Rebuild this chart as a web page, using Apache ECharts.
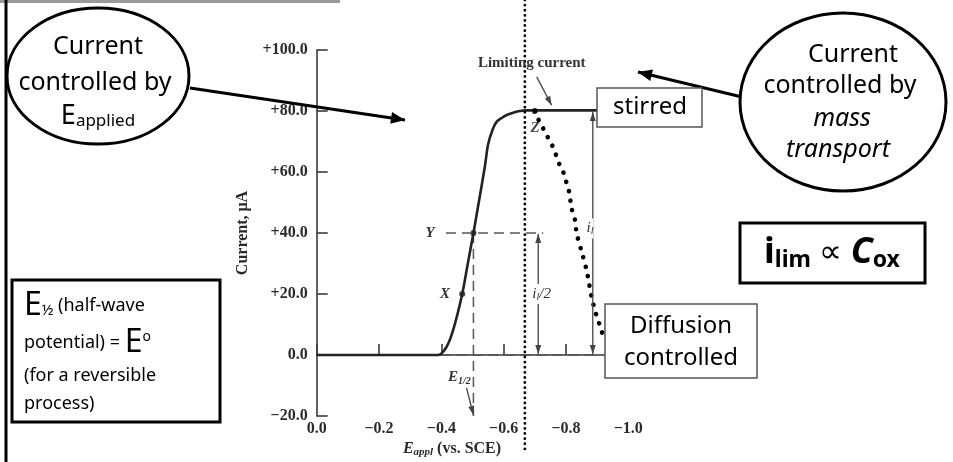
<!DOCTYPE html>
<html><head><meta charset="utf-8">
<script src="https://cdn.jsdelivr.net/npm/echarts@6/dist/echarts.min.js"></script>
<style>html,body{margin:0;padding:0;background:#fff}#c{width:953px;height:462px}</style>
</head><body><div id="c"></div>
<script>
// ---- data (E in V vs SCE, current in µA) ----
const xTickLabels = ['0.0', '−0.2', '−0.4', '−0.6', '−0.8', '−1.0'];
const yTickLabels = ['−20.0', '0.0', '+20.0', '+40.0', '+60.0', '+80.0', '+100.0'];
const eStirred = [0, -0.39, -0.417, -0.438, -0.467, -0.485, -0.503, -0.52, -0.54, -0.55, -0.565, -0.578, -0.595, -0.61, -0.635, -0.652, -0.67, -0.9];
const iStirred = [0, 0, 2.7, 8.2, 20, 30, 40, 50, 62, 69, 74, 76.5, 77.8, 78.7, 79.6, 80, 80.2, 80.2];
const eDiffusion = [-0.70, -0.717, -0.733, -0.746, -0.76, -0.77, -0.781, -0.794, -0.802, -0.81, -0.818, -0.829, -0.834, -0.85, -0.866, -0.874, -0.882, -0.89, -0.899, -0.91, -0.92];
const iDiffusion = [80, 76, 73.2, 70.5, 67.8, 65, 62, 59.3, 56.3, 53.5, 48.2, 44.3, 40, 34, 27.9, 23.5, 19.1, 15.8, 12.6, 9.3, 6];
const eHalf = -0.503, iHalf = 40;          // point Y (E1/2)
const eX = -0.467, iX = 20;                // point X
const eZ = -0.70, iZ = 80;                 // point Z
const iLim = 80;
const eDivider = -0.668;                   // vertical dotted divider
const dashHalf = [[-0.415, 40], [-0.727, 40]];
const dashE12 = [[-0.503, 40], [-0.503, -20]];
const dashZero = [[-0.396, 0], [-0.893, 0]];
const eArrowHalf = -0.711, eArrowLim = -0.886;

const chart = echarts.init(document.getElementById('c'));
const serif = 'Liberation Serif, Times New Roman, serif';
const comic = '"Comic Sans MS", "Noto Sans", sans-serif';
const axisCol = '#3a3a3a';

const pair = (xs, ys) => xs.map((x, i) => [x, ys[i]]);

chart.setOption({
  animation: false,
  grid: { left: 316.7, right: 324.7, top: 50, bottom: 46 },
  xAxis: {
    type: 'value', min: -1, max: 0, interval: 0.2, inverse: true,
    splitLine: { show: false },
    axisLine: { lineStyle: { color: axisCol, width: 1.6 } },
    axisTick: { inside: true, length: 11, lineStyle: { color: axisCol, width: 1.6 } },
    axisLabel: { margin: 5, color: '#2a2a2a', fontFamily: serif, fontWeight: 'bold', fontSize: 16,
      formatter: v => xTickLabels[Math.round(-v / 0.2)] }
  },
  yAxis: {
    type: 'value', min: -20, max: 100, interval: 20,
    name: 'Current, μA', nameLocation: 'middle', nameGap: 66, nameRotate: 90,
    nameTextStyle: { color: '#2a2a2a', fontFamily: serif, fontWeight: 'bold', fontSize: 16 },
    splitLine: { show: false },
    axisLine: { onZero: false, lineStyle: { color: axisCol, width: 1.6 } },
    axisTick: { inside: true, length: 11, lineStyle: { color: axisCol, width: 1.6 } },
    axisLabel: { margin: 9, color: '#2a2a2a', fontFamily: serif, fontWeight: 'bold', fontSize: 16,
      formatter: v => yTickLabels[Math.round((v + 20) / 20)] }
  },
  series: [
    { type: 'line', data: dashHalf, symbol: 'none', lineStyle: { color: '#555', width: 1.5, type: [10, 6] } },
    { type: 'line', data: dashE12, symbol: 'none', lineStyle: { color: '#555', width: 1.5, type: [10, 6] } },
    { type: 'line', data: dashZero, symbol: 'none', lineStyle: { color: '#555', width: 1.5, type: [10, 6] } },
    { type: 'line', data: pair(eStirred, iStirred), symbol: 'none', smooth: 0.3,
      lineStyle: { color: '#222', width: 2.6 } },
    { type: 'line', data: pair(eDiffusion, iDiffusion), symbol: 'none', smooth: 0.3,
      lineStyle: { color: '#000', width: 4.6, type: [0.1, 9.6], cap: 'round' } },
    { type: 'scatter', data: [[eX, iX], [eHalf, iHalf], [eZ, iZ]], symbolSize: 6,
      itemStyle: { color: '#111' } }
  ]
});

const P = (e, i) => chart.convertToPixel({ gridIndex: 0 }, [e, i]);

function arrow(p1, p2, o) {
  o = Object.assign({ color: '#000', width: 2, L: 12, W: 5, both: false }, o || {});
  const els = [{ type: 'line', shape: { x1: p1[0], y1: p1[1], x2: p2[0], y2: p2[1] },
    style: { stroke: o.color, lineWidth: o.width }, z: 50 }];
  const head = (a, b) => {
    const dx = b[0] - a[0], dy = b[1] - a[1], d = Math.hypot(dx, dy);
    const ux = dx / d, uy = dy / d, bx = b[0] - ux * o.L, by = b[1] - uy * o.L;
    return { type: 'polygon', shape: { points: [[b[0], b[1]], [bx - uy * o.W, by + ux * o.W], [bx + uy * o.W, by - ux * o.W]] },
      style: { fill: o.color }, z: 51 };
  };
  els.push(head(p1, p2));
  if (o.both) els.push(head(p2, p1));
  return els;
}
function txt(x, y, text, font, extra) {
  return { type: 'text', x: x, y: y, z: 60,
    style: Object.assign({ text: text, font: font, fill: '#000', align: 'center', verticalAlign: 'middle' }, extra || {}) };
}

const g = [];
// page decoration
g.push({ type: 'rect', shape: { x: 0, y: 0, width: 340, height: 3 }, style: { fill: '#9a9a9a' }, z: 1 });
g.push({ type: 'line', shape: { x1: 6, y1: 0, x2: 6, y2: 462 }, style: { stroke: '#000', lineWidth: 3 }, z: 1 });

// vertical dotted divider
const dv = P(eDivider, 0);
g.push({ type: 'line', shape: { x1: dv[0], y1: 0, x2: dv[0], y2: 452 },
  style: { stroke: '#000', lineWidth: 2.8, lineDash: [0.1, 5], lineCap: 'round' }, z: 40 });

// in-chart arrows
const aH1 = P(eArrowHalf, iHalf), aH2 = P(eArrowHalf, 0);
g.push(...arrow([aH1[0], aH1[1] + 1], [aH2[0], aH2[1] - 1], { color: '#444', width: 1.3, L: 9, W: 3, both: true }));
const aL1 = P(eArrowLim, iLim), aL2 = P(eArrowLim, 0);
g.push(...arrow([aL1[0], aL1[1] + 1], [aL2[0], aL2[1] - 1], { color: '#444', width: 1.3, L: 9, W: 3, both: true }));
g.push(...arrow(P(-0.706, 91.2), P(-0.754, 81.9), { color: '#444', width: 1.3, L: 9, W: 3 }));
g.push(...arrow(P(-0.481, -10.8), P(-0.503, -19.7), { color: '#444', width: 1.3, L: 9, W: 3 }));

// in-chart labels
const lc = P(-0.69, 95.7);
g.push(txt(lc[0], lc[1], 'Limiting current', 'bold 15px ' + serif, { fill: '#333' }));
const pz = P(-0.701, 74.4);
g.push(txt(pz[0], pz[1], 'Z', 'italic bold 15px ' + serif, { fill: '#444' }));
const py = P(-0.364, 40);
g.push(txt(py[0], py[1], 'Y', 'italic bold 15px ' + serif, { fill: '#333' }));
const px = P(-0.412, 20);
g.push(txt(px[0], px[1], 'X', 'italic bold 15px ' + serif, { fill: '#333' }));
const pe = P(-0.458, -7.2);
g.push(txt(pe[0], pe[1], '{e|E}{s|1/2}', '', { rich: {
  e: { fontFamily: serif, fontStyle: 'italic', fontWeight: 'bold', fontSize: 15, fill: '#333' },
  s: { fontFamily: serif, fontStyle: 'italic', fontWeight: 'bold', fontSize: 10, fill: '#333', padding: [8, 0, 0, 0] } } }));
const pil2 = P(-0.722, 20);
g.push(txt(pil2[0], pil2[1], '{i|i}{s|l}{i|/2}', '', { backgroundColor: '#fff', padding: [2, 1], rich: {
  i: { fontFamily: serif, fontStyle: 'italic', fontSize: 15, fill: '#333' },
  s: { fontFamily: serif, fontStyle: 'italic', fontSize: 10, fill: '#333', padding: [6, 0, 0, 0] } } }));
const pil = P(-0.877, 41.5);
g.push(txt(pil[0], pil[1], '{i|i}{s|l}', '', { backgroundColor: '#fff', padding: [2, 0], rich: {
  i: { fontFamily: serif, fontStyle: 'italic', fontSize: 15, fill: '#333' },
  s: { fontFamily: serif, fontStyle: 'italic', fontSize: 10, fill: '#333', padding: [6, 0, 0, 0] } } }));

// x axis name
g.push(txt(452, 449, '{e|E}{s|appl}{n| (vs. SCE)}', '', { rich: {
  e: { fontFamily: serif, fontStyle: 'italic', fontWeight: 'bold', fontSize: 16, fill: '#2a2a2a' },
  s: { fontFamily: serif, fontStyle: 'italic', fontWeight: 'bold', fontSize: 11, fill: '#2a2a2a', padding: [7, 0, 0, 0] },
  n: { fontFamily: serif, fontWeight: 'bold', fontSize: 16, fill: '#2a2a2a' } } }));

// left ellipse + arrow
g.push(...arrow([190, 88], [405, 120], { width: 3, L: 14, W: 6 }));
g.push({ type: 'ellipse', shape: { cx: 98, cy: 76, rx: 91, ry: 68 }, style: { fill: '#fff', stroke: '#000', lineWidth: 3 }, z: 55 });
g.push(txt(98, 47, 'Current', '25px ' + comic));
g.push(txt(95, 83, 'controlled by', '25px ' + comic));
g.push(txt(98, 116, '{e|E}{s|applied}', '', { rich: {
  e: { fontFamily: comic, fontSize: 27 }, s: { fontFamily: comic, fontSize: 17, padding: [10, 0, 0, 0] } } }));

// right ellipse + arrow
g.push(...arrow([742, 97], [638, 72], { width: 3, L: 14, W: 6 }));
g.push({ type: 'ellipse', shape: { cx: 843, cy: 102, rx: 103, ry: 89 }, style: { fill: '#fff', stroke: '#000', lineWidth: 3 }, z: 55 });
g.push(txt(853, 55, 'Current', '25px ' + comic));
g.push(txt(840, 86, 'controlled by', '25px ' + comic));
g.push(txt(842, 119, 'mass', 'italic 25px ' + comic));
g.push(txt(838, 150, 'transport', 'italic 25px ' + comic));

// stirred box
g.push({ type: 'rect', shape: { x: 597, y: 88, width: 105, height: 39 }, style: { fill: '#fff', stroke: '#555', lineWidth: 1.5 }, z: 55 });
g.push(txt(650, 107, 'stirred', '24px ' + comic));

// diffusion controlled box
g.push({ type: 'rect', shape: { x: 605, y: 304, width: 152, height: 74 }, style: { fill: '#fff', stroke: '#555', lineWidth: 1.5 }, z: 55 });
g.push(txt(681, 326, 'Diffusion', '24px ' + comic));
g.push(txt(681, 358, 'controlled', '24px ' + comic));

// i_lim ∝ C_ox box
g.push({ type: 'rect', shape: { x: 740, y: 223, width: 185, height: 60 }, style: { fill: '#fff', stroke: '#000', lineWidth: 3 }, z: 55 });
g.push(txt(832, 253, '{i|i}{s|lim}{p| ∝ }{c|C}{s|ox}', '', { rich: {
  i: { fontFamily: comic, fontWeight: 'bold', fontSize: 36 },
  s: { fontFamily: comic, fontWeight: 'bold', fontSize: 23, padding: [14, 0, 0, 0] },
  p: { fontFamily: comic, fontSize: 32 },
  c: { fontFamily: comic, fontWeight: 'bold', fontStyle: 'italic', fontSize: 36 } } }));

// E1/2 box
g.push({ type: 'rect', shape: { x: 12, y: 280, width: 208, height: 142 }, style: { fill: '#fff', stroke: '#000', lineWidth: 3 }, z: 55 });
g.push(txt(24, 306, '{e|E}{f|½}{t| (half-wave}', '', { align: 'left', rich: {
  e: { fontFamily: comic, fontSize: 32 }, f: { fontFamily: comic, fontSize: 15, padding: [10, 0, 0, 0] },
  t: { fontFamily: comic, fontSize: 18 } } }));
g.push(txt(24, 343, '{t|potential) = }{e|E}{o|o}', '', { align: 'left', rich: {
  e: { fontFamily: comic, fontSize: 32 }, o: { fontFamily: comic, fontSize: 14, padding: [0, 0, 12, 0] },
  t: { fontFamily: comic, fontSize: 18 } } }));
g.push(txt(24, 376, '(for a reversible', '18px ' + comic, { align: 'left' }));
g.push(txt(24, 404, 'process)', '18px ' + comic, { align: 'left' }));

chart.setOption({ graphic: g });
</script>
</body></html>
